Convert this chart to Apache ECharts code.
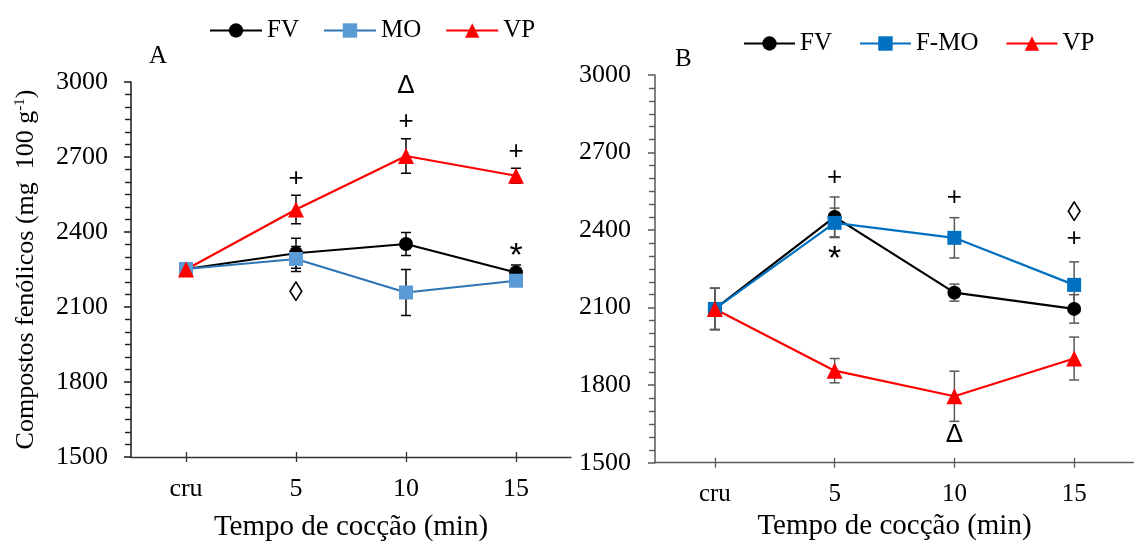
<!DOCTYPE html>
<html>
<head>
<meta charset="utf-8">
<script src="https://cdn.jsdelivr.net/npm/echarts@6/dist/echarts.min.js"></script>
<style>
html,body{margin:0;padding:0;background:#fff;}
#c{width:1134px;height:547px;}
</style>
</head>
<body>
<div id="c"></div>
<script>
// ---------- data ----------
const categories = ['cru', '5', '10', '15'];
const yTicks = [1500, 1800, 2100, 2400, 2700, 3000];

// Panel A
const fvA = [2252, 2315, 2352, 2238];
const fvAErr = [15, 60, 46, 30];
const moA = [2252, 2292, 2158, 2205];
const moAErr = [15, 50, 92, 15];
const vpA = [2250, 2490, 2704, 2625];
const vpAErr = [15, 57, 69, 30];
const annotA = [[1, 2611, '+'], [1, 2155, '◊'], [2, 2984, 'Δ'], [2, 2841, '+'], [3, 2722, '+'], [3, 2300, '*']];

// Panel B
const fvB = [2095, 2451, 2158, 2095];
const fvBErr = [80, 77, 33, 55];
const moB = [2095, 2428, 2370, 2188];
const moBErr = [80, 57, 78, 89];
const vpB = [2095, 1856, 1757, 1903];
const vpBErr = [80, 47, 97, 83];
const annotB = [[1, 2604, '+'], [1, 2285, '*'], [2, 2524, '+'], [3, 2466, '◊'], [3, 2365, '+'], [2, 1607, 'Δ']];

// ---------- helpers ----------
const SERIF = 'Liberation Serif';
function errData(vals, errs) { return vals.map((v, i) => [i, v, errs[i]]); }
function errSeries(name, vals, errs, idx, color) {
  return {
    type: 'custom', name: name, xAxisIndex: idx * 2, yAxisIndex: idx, z: 1,
    data: errData(vals, errs), encode: { x: 0, y: 1 },
    renderItem: function (params, api) {
      const x = api.value(0), y = api.value(1), e = api.value(2);
      const hi = api.coord([x, y + e]), lo = api.coord([x, y - e]);
      const w = 5;
      const st = { stroke: color, lineWidth: 1.5 };
      return {
        type: 'group', children: [
          { type: 'line', shape: { x1: hi[0], y1: hi[1], x2: lo[0], y2: lo[1] }, style: st },
          { type: 'line', shape: { x1: hi[0] - w, y1: hi[1], x2: hi[0] + w, y2: hi[1] }, style: st },
          { type: 'line', shape: { x1: lo[0] - w, y1: lo[1], x2: lo[0] + w, y2: lo[1] }, style: st }
        ]
      };
    }
  };
}
function glyphFont(t) {
  if (t === '*') return '34px "Liberation Sans"';
  if (t === '◊') return '28px "Liberation Sans"';
  return '26px "Liberation Sans"';
}
function annotSeries(list, idx) {
  return {
    type: 'custom', name: 'annot' + idx, xAxisIndex: idx * 2, yAxisIndex: idx, z: 5,
    data: list.map(a => [a[0], a[1]]), encode: { x: 0, y: 1 },
    renderItem: function (params, api) {
      const p = api.coord([api.value(0), api.value(1)]);
      const t = list[params.dataIndex][2];
      return {
        type: 'text', x: p[0], y: p[1],
        style: { text: t, fill: '#000', font: glyphFont(t), align: 'center', verticalAlign: 'middle' }
      };
    }
  };
}
function lineSeries(name, vals, idx, symbol, lineColor, itemColor) {
  return {
    type: 'line', name: name, xAxisIndex: idx * 2, yAxisIndex: idx, z: 3,
    data: vals, symbol: symbol, symbolSize: symbol === 'triangle' ? 16 : 14,
    lineStyle: { color: lineColor, width: 2.2 },
    itemStyle: { color: itemColor, borderWidth: 0 }
  };
}
function xAxes(gridIndex, color, labelSize, nameGap) {
  return [
    {
      type: 'category', gridIndex: gridIndex, position: 'bottom', data: categories,
      axisLine: { show: true, lineStyle: { color: color, width: 1.3 } },
      axisTick: { show: true, alignWithLabel: true, inside: false, length: 5, lineStyle: { color: color, width: 1.3 } },
      axisLabel: { fontFamily: SERIF, fontSize: labelSize, color: '#000', margin: 19 },
      name: 'Tempo de cocção (min)', nameLocation: 'middle', nameGap: nameGap,
      nameTextStyle: { fontFamily: SERIF, fontSize: 29, color: '#000' },
      splitLine: { show: false }
    },
    {
      type: 'category', gridIndex: gridIndex, position: 'bottom', data: categories,
      axisLine: { show: false },
      axisTick: { show: true, alignWithLabel: true, inside: true, length: 5, lineStyle: { color: color, width: 1.3 } },
      axisLabel: { show: false }, splitLine: { show: false }
    }
  ];
}
function yAxis(gridIndex, color, margin, withName) {
  const ax = {
    type: 'value', gridIndex: gridIndex, min: yTicks[0], max: yTicks[yTicks.length - 1], interval: 300,
    axisLine: { show: true, lineStyle: { color: color, width: 1.5 } },
    axisTick: { show: true, inside: false, length: 7, lineStyle: { color: color, width: 1.5 } },
    minorTick: { show: true, splitNumber: 6, length: 6, lineStyle: { color: color, width: 1.4 } },
    axisLabel: { fontFamily: SERIF, fontSize: 26, color: '#000', margin: margin, formatter: function (v) { return String(v); } },
    splitLine: { show: false }
  };
  if (withName) {
    ax.name = 'Compostos fenólicos (mg  100 g{s|-1})';
    ax.nameLocation = 'middle';
    ax.nameGap = 92;
    ax.nameTextStyle = { fontFamily: SERIF, fontSize: 26, color: '#000', rich: { s: { fontFamily: SERIF, fontSize: 15, verticalAlign: 'top', padding: [0, 0, 10, 0] } } };
  }
  return ax;
}

const chart = echarts.init(document.getElementById('c'), null, { renderer: 'canvas' });
chart.setOption({
  animation: false,
  backgroundColor: '#fff',
  grid: [
    { left: 131, top: 82, width: 440, height: 378 },
    { left: 655, top: 75, width: 487, height: 387.7 }
  ],
  xAxis: [].concat(xAxes(0, '#333', 26, 56), xAxes(1, '#595959', 25, 45)),
  yAxis: [yAxis(0, '#1a1a1a', 23, true), yAxis(1, '#595959', 24, false)],
  legend: [
    {
      left: 204, top: 13, itemWidth: 52, itemHeight: 18, itemGap: 24,
      data: ['FV', 'MO', 'VP'], selectedMode: false,
      textStyle: { fontFamily: SERIF, fontSize: 25, color: '#000' }
    },
    {
      left: 738, top: 26, itemWidth: 51, itemHeight: 18, itemGap: 27,
      data: ['FV', 'F-MO', 'VP'], selectedMode: false,
      textStyle: { fontFamily: SERIF, fontSize: 25, color: '#000' }
    }
  ],
  graphic: [
    { type: 'text', left: 149, top: 44, style: { text: 'A', font: '25px "Liberation Serif"', fill: '#000' } },
    { type: 'text', left: 675, top: 47, style: { text: 'B', font: '25px "Liberation Serif"', fill: '#000' } }
  ],
  series: [
    errSeries('eFVA', fvA, fvAErr, 0, '#000'),
    errSeries('eMOA', moA, moAErr, 0, '#000'),
    errSeries('eVPA', vpA, vpAErr, 0, '#000'),
    lineSeries('FV', fvA, 0, 'circle', '#000', '#000'),
    lineSeries('MO', moA, 0, 'rect', '#2E75B6', '#5B9BD5'),
    lineSeries('VP', vpA, 0, 'triangle', '#FF0000', '#FF0000'),
    annotSeries(annotA, 0),

    errSeries('eFVB', fvB, fvBErr, 1, '#595959'),
    errSeries('eMOB', moB, moBErr, 1, '#595959'),
    errSeries('eVPB', vpB, vpBErr, 1, '#595959'),
    lineSeries('FV', fvB, 1, 'circle', '#000', '#000'),
    lineSeries('F-MO', moB, 1, 'rect', '#0070C0', '#0070C0'),
    lineSeries('VP', vpB, 1, 'triangle', '#FF0000', '#FF0000'),
    annotSeries(annotB, 1)
  ]
});
</script>
</body>
</html>
